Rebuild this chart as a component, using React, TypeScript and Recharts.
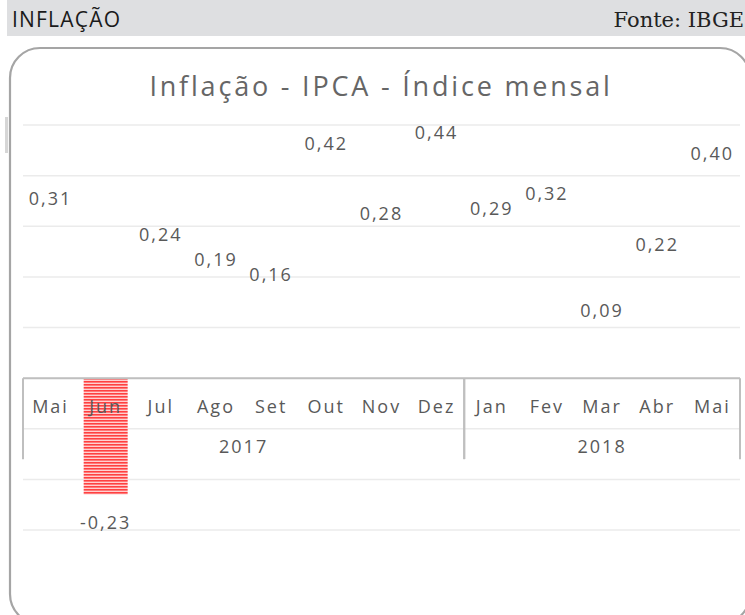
import { Bar, BarChart, CartesianGrid, Cell, LabelList, ReferenceArea, ReferenceLine, XAxis, YAxis } from "recharts"

const keys = ["Mai17", "Jun17", "Jul17", "Ago17", "Set17", "Out17", "Nov17", "Dez17", "Jan18", "Fev18", "Mar18", "Abr18", "Mai18"]
const months = ["Mai", "Jun", "Jul", "Ago", "Set", "Out", "Nov", "Dez", "Jan", "Fev", "Mar", "Abr", "Mai"]
const ipca = [0.31, -0.23, 0.24, 0.19, 0.16, 0.42, 0.28, 0.44, 0.29, 0.32, 0.09, 0.22, 0.4]
const yearGroups = [
    { year: "2017", from: "Mai17", to: "Dez17" },
    { year: "2018", from: "Jan18", to: "Mai18" },
]
const yTicks = [-0.3, -0.2, -0.1, 0, 0.1, 0.2, 0.3, 0.4, 0.5]

const data = keys.map((key, i) => ({ key, month: months[i], value: ipca[i] }))

const FONT = "'Open Sans', sans-serif"
const GRAY = "#595959"

const fmt = (v: number) => v.toFixed(2).replace(".", ",")

const ValueLabel = (props: any) => {
    const x = Number(props.x)
    const y = Number(props.y)
    const w = Number(props.width)
    const h = Number(props.height)
    const v = ipca[props.index]
    const top = Math.min(y, y + h)
    const bottom = Math.max(y, y + h)
    const ty = v >= 0 ? top - 16 : bottom + 34
    return (
        <text x={x + w / 2} y={ty} textAnchor="middle" fill={GRAY} fontSize={18} fontFamily={FONT} letterSpacing={2}>
            {fmt(v)}
        </text>
    )
}

const MonthLabel = (props: any) => {
    const x = Number(props.x)
    const y = Number(props.y)
    const w = Number(props.width)
    const h = Number(props.height)
    const v = ipca[props.index]
    const zeroY = v >= 0 ? Math.max(y, y + h) : Math.min(y, y + h)
    return (
        <text x={x + w / 2} y={zeroY + 35} textAnchor="middle" fill={GRAY} fontSize={18} fontFamily={FONT} letterSpacing={2}>
            {months[props.index]}
        </text>
    )
}

const YearBox = ({ x, y, width, height, year }: any) => {
    const bottom = y + height
    return (
        <g>
            <line x1={x} y1={y} x2={x} y2={bottom} stroke="#bfbfbf" strokeWidth={2} />
            <line x1={x + width} y1={y} x2={x + width} y2={bottom} stroke="#bfbfbf" strokeWidth={2} />
            <text x={x + width / 2} y={bottom - 6} textAnchor="middle" fill={GRAY} fontSize={18} fontFamily={FONT} letterSpacing={2}>
                {year}
            </text>
        </g>
    )
}

const App = () => {
    return (
        <div style={{ position: "absolute", left: 0, top: 0, width: 745, height: 615, overflow: "hidden", background: "#fff" }}>
            <svg width={745} height={615} style={{ position: "absolute", left: 0, top: 0 }}>
                <rect x={7} y={0} width={738} height={36} fill="#dedfe1" />
                <text x={12} y={27} fontSize={21} fontFamily={FONT} fill="#1a1a1a" letterSpacing={1.2}>
                    INFLAÇÃO
                </text>
                <text x={744} y={27} textAnchor="end" fontSize={21} fontFamily="'DejaVu Serif', serif" fill="#222">
                    Fonte: IBGE
                </text>
                <rect x={10} y={48} width={740} height={576} rx={30} fill="#fff" stroke="#a5a5a5" strokeWidth={2.2} />
                <rect x={5} y={117} width={3} height={36} fill="#d6d6d6" />
                <text x={381} y={96} textAnchor="middle" fontSize={27} fontFamily={FONT} fill="#666" letterSpacing={2.8}>
                    Inflação - IPCA - Índice mensal
                </text>
            </svg>
            <div style={{ position: "absolute", left: 0, top: 0 }}>
                <BarChart
                    width={745}
                    height={615}
                    data={data}
                    margin={{ top: 125, right: 5, bottom: 85, left: 23 }}
                    barCategoryGap="10%"
                >
                    <defs>
                        <pattern id="stripes" width={4} height={3} patternUnits="userSpaceOnUse">
                            <rect width={4} height={3} fill="#ffd0d0" />
                            <rect width={4} height={1.6} fill="#ff4040" />
                        </pattern>
                    </defs>
                    <CartesianGrid vertical={false} stroke="#ebebeb" strokeWidth={1.5} />
                    <XAxis dataKey="key" hide />
                    <YAxis hide domain={[-0.3, 0.5]} ticks={yTicks} />
                    <ReferenceLine y={0} stroke="#bfbfbf" strokeWidth={2} />
                    {yearGroups.map((g) => (
                        <ReferenceArea
                            key={g.year}
                            x1={g.from}
                            x2={g.to}
                            y1={0}
                            y2={-0.16}
                            shape={(p: any) => <YearBox {...p} year={g.year} />}
                        />
                    ))}
                    <Bar dataKey="value" isAnimationActive={false}>
                        {data.map((d) => (
                            <Cell key={d.key} fill={d.value < 0 ? "url(#stripes)" : "none"} />
                        ))}
                        <LabelList dataKey="value" content={ValueLabel} />
                        <LabelList dataKey="month" content={MonthLabel} />
                    </Bar>
                </BarChart>
            </div>
        </div>
    )
}

export default App
